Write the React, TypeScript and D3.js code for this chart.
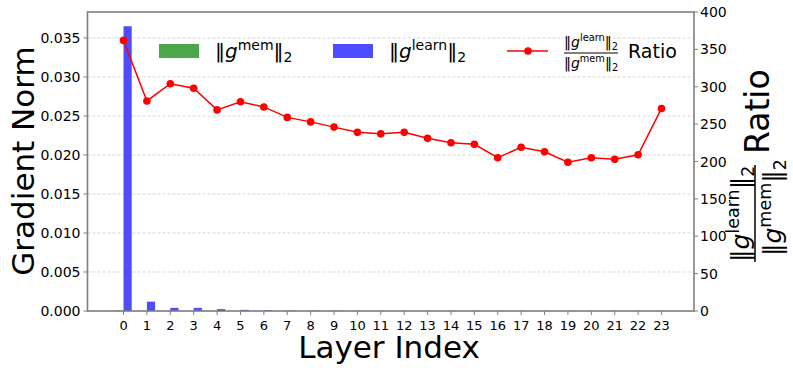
import React from "react";
import * as d3 from "d3";

const layers = d3.range(0, 24);
const learnNorm = [0.0365, 0.0012, 0.0004, 0.0004, 0.00025, 0.00015, 0.0001, 0.00008, 0.00006, 0.00004, 0.00003, 0.00003, 0.00002, 0.00002, 0.00002, 0.00002, 0.00001, 0.00001, 0.00001, 0.00001, 0.00001, 0.00001, 0.00001, 0.00001];
const memNorm = [0.0001, 0.000004, 0.0000013, 0.0000013, 0.0000009, 0.0000005, 0.0000004, 0.0000003, 0.0000002, 0.0000002, 0.0000001, 0.0000001, 0.0000001, 0.0000001, 0.0000001, 0.0000001, 0.0000001, 0.0000001, 0.0000001, 0.0000001, 0.0000001, 0.0000001, 0.0000001, 0.0000001];
const ratio = [362, 281, 304, 298, 269, 280, 273, 259, 253, 246, 239, 237, 239, 231, 225, 223, 205, 219, 213, 199, 205, 203, 209, 271];
const leftTicks = [0, 0.005, 0.01, 0.015, 0.02, 0.025, 0.03, 0.035];
const rightTicks = [0, 50, 100, 150, 200, 250, 300, 350, 400];

const W = 793, H = 372;
const L = 87.5, R = 694, T = 12, B = 311;
const FONT = "DejaVu Sans";
const SPINE = "#7f7f7f";

function NormText({ sup, size, x, y, anchor = "start" }: { sup: string; size: number; x: number; y: number; anchor?: string }) {
  return (
    <text x={x} y={y} fontSize={size} fontFamily={FONT} textAnchor={anchor} fill="#000">
      <tspan>‖</tspan>
      <tspan fontStyle="italic">g</tspan>
      <tspan fontSize={size * 0.7} dy={-size * 0.42}>{sup}</tspan>
      <tspan dy={size * 0.42}>‖</tspan>
      <tspan fontSize={size * 0.7} dy={size * 0.2}>2</tspan>
    </text>
  );
}

export default function App() {
  const x = d3.scaleLinear().domain([-1.54, 24.39]).range([L, R]);
  const yL = d3.scaleLinear().domain([0, 0.03833]).range([B, T]);
  const yR = d3.scaleLinear().domain([0, 400]).range([B, T]);
  const bw = x(0.35) - x(0);
  const line = d3.line<number>().x((_, i) => x(layers[i])).y((d) => yR(d));

  return (
    <svg width={W} height={H} style={{ position: "absolute", left: 0, top: 0 }} fontFamily={FONT}>
      <rect width={W} height={H} fill="#fff" />
      {/* grid */}
      {leftTicks.map((t) => (
        <line key={"g" + t} x1={L} x2={R} y1={yL(t)} y2={yL(t)} stroke="#cccccc" strokeWidth={0.8} strokeDasharray="3,2" />
      ))}
      {/* bars */}
      {layers.map((l, i) => (
        <rect key={"m" + l} x={x(l) - bw} y={yL(memNorm[i])} width={bw} height={B - yL(memNorm[i])} fill="#4ca64c" />
      ))}
      {layers.map((l, i) => (
        <rect key={"b" + l} x={x(l)} y={yL(learnNorm[i])} width={bw} height={B - yL(learnNorm[i])} fill="#4d4dff" />
      ))}
      {/* ratio line */}
      <path d={line(ratio) || ""} fill="none" stroke="#ff0000" strokeWidth={1.5} />
      {ratio.map((r, i) => (
        <circle key={"c" + i} cx={x(layers[i])} cy={yR(r)} r={3.8} fill="#ff0000" />
      ))}
      {/* spines */}
      <rect x={L} y={T} width={R - L} height={B - T} fill="none" stroke={SPINE} strokeWidth={1.6} />
      {/* left ticks */}
      {leftTicks.map((t) => (
        <g key={"lt" + t}>
          <line x1={L - 4} x2={L} y1={yL(t)} y2={yL(t)} stroke={SPINE} strokeWidth={1} />
          <text x={L - 7} y={yL(t)} dy="0.36em" textAnchor="end" fontSize={14}>{d3.format(".3f")(t)}</text>
        </g>
      ))}
      {/* right ticks */}
      {rightTicks.map((t) => (
        <g key={"rt" + t}>
          <line x1={R} x2={R + 4} y1={yR(t)} y2={yR(t)} stroke={SPINE} strokeWidth={1} />
          <text x={R + 6} y={yR(t)} dy="0.36em" textAnchor="start" fontSize={14}>{t}</text>
        </g>
      ))}
      {/* bottom ticks */}
      {layers.map((l) => (
        <g key={"bt" + l}>
          <line x1={x(l)} x2={x(l)} y1={B} y2={B + 4} stroke={SPINE} strokeWidth={1} />
          <text x={x(l)} y={B + 19} textAnchor="middle" fontSize={13}>{l}</text>
        </g>
      ))}
      {/* axis labels */}
      <text x={389} y={358} textAnchor="middle" fontSize={31}>Layer Index</text>
      <text transform={`translate(33.5,161) rotate(-90)`} textAnchor="middle" fontSize={31}>Gradient Norm</text>
      {/* right label */}
      <g transform="translate(755,262) rotate(-90)">
        <NormText sup="learn" size={25} x={0} y={-6} />
        <line x1={0} x2={97} y1={0} y2={0} stroke="#000" strokeWidth={1.5} />
        <NormText sup="mem" size={25} x={6} y={26} />
        <text x={108} y={14} fontSize={33}>Ratio</text>
      </g>
      {/* legend */}
      <rect x={159} y={44} width={40} height={14} fill="#4ca64c" />
      <NormText sup="mem" size={20} x={215} y={58} />
      <rect x={333} y={44} width={40} height={14} fill="#4d4dff" />
      <NormText sup="learn" size={20} x={389} y={58} />
      <line x1={507} x2={548} y1={51} y2={51} stroke="#ff0000" strokeWidth={1.5} />
      <circle cx={528} cy={51} r={3.8} fill="#ff0000" />
      <NormText sup="learn" size={14} x={591} y={47} anchor="middle" />
      <line x1={564} x2={618} y1={53} y2={53} stroke="#000" strokeWidth={1} />
      <NormText sup="mem" size={14} x={591} y={68} anchor="middle" />
      <text x={628} y={58} fontSize={19}>Ratio</text>
    </svg>
  );
}
